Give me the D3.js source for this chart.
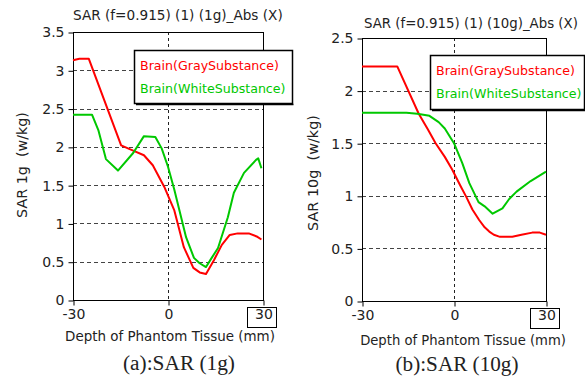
<!DOCTYPE html>
<html>
<head>
<meta charset="utf-8">
<script src="https://cdn.jsdelivr.net/npm/d3@7"></script>
<style>
  body { margin: 0; background: #fff; }
  svg { display: block; }
  text { font-family: "DejaVu Sans", sans-serif; }
</style>
</head>
<body>
<svg id="chart" width="585" height="378"></svg>
<script>
// depth (mm) / SAR values
const depth1gGray = [-30, -28, -25, -14.8, -11, -7.6, -4.8, -1.2, 2, 5, 8, 10, 12, 14.5, 17, 19.5, 22, 25.5, 28, 29.5]
const sar1gGray   = [3.13, 3.15, 3.15, 2.02, 1.95, 1.89, 1.76, 1.48, 1.17, 0.69, 0.42, 0.36, 0.34, 0.52, 0.72, 0.85, 0.87, 0.87, 0.83, 0.79]
const depth1gWhite = [-30, -24, -22, -19.6, -15.8, -11, -7.6, -4, -2, 0, 2, 5.7, 8.2, 10, 12, 13.8, 15.8, 18.9, 20.8, 24, 27.8, 28.5, 29.5]
const sar1gWhite   = [2.42, 2.42, 2.22, 1.84, 1.69, 1.92, 2.14, 2.13, 1.98, 1.74, 1.44, 0.82, 0.55, 0.48, 0.43, 0.55, 0.68, 1.08, 1.40, 1.66, 1.83, 1.85, 1.72]

const depth10gGray = [-30, -18.5, -11.5, -8.5, -6, -3, -0.6, 2, 4, 6, 8.2, 10, 11.5, 13, 15, 19, 22, 25.5, 28, 30]
const sar10gGray   = [2.23, 2.23, 1.78, 1.63, 1.50, 1.37, 1.25, 1.10, 0.99, 0.87, 0.77, 0.70, 0.66, 0.63, 0.61, 0.61, 0.63, 0.65, 0.65, 0.63]
const depth10gWhite = [-30, -15.5, -12, -8, -5, -3, 0, 2.7, 5, 8, 10, 12.6, 15.8, 18, 20.4, 25, 30]
const sar10gWhite   = [1.79, 1.79, 1.78, 1.76, 1.70, 1.64, 1.50, 1.31, 1.12, 0.94, 0.90, 0.83, 0.88, 0.97, 1.04, 1.14, 1.23]

const xTicks = [-30, 0, 30]
const yTicks1g = [0, 0.5, 1, 1.5, 2, 2.5, 3, 3.5]
const yTicks10g = [0, 0.5, 1, 1.5, 2, 2.5]
const legendNames = ["Brain(GraySubstance)", "Brain(WhiteSubstance)"]
const lineColors = ["#ff0000", "#00c800"]

const svg = d3.select("#chart")

const zip = (xs, ys) => xs.map((x, i) => ({x: x, y: ys[i]}))

// scale the font so a text takes the width it has in the picture
const fitWidth = (sel, target) => {
  const w = sel.node().getComputedTextLength()
  const fs = +sel.attr("font-size") * target / w
  sel.attr("font-size", fs)
  return fs
}

const drawPanel = (cfg) => {
  const x = d3.scaleLinear().domain([-30, 30]).range([cfg.left, cfg.right])
  const y = d3.scaleLinear().domain([0, cfg.yMax]).range([cfg.bottom, cfg.top])
  const g = svg.append("g")

  // horizontal dashed grid
  g.selectAll(".hgrid").data(cfg.yTicks.slice(1, -1)).join("line")
    .attr("x1", cfg.left).attr("x2", cfg.right)
    .attr("y1", d => Math.round(y(d)) + 0.5).attr("y2", d => Math.round(y(d)) + 0.5)
    .attr("stroke", "#444").attr("stroke-dasharray", "4,3")
  // vertical dashed at 0
  g.append("line")
    .attr("x1", Math.round(x(0)) + 0.5).attr("x2", Math.round(x(0)) + 0.5)
    .attr("y1", cfg.top).attr("y2", cfg.bottom)
    .attr("stroke", "#222").attr("stroke-dasharray", "3,3")

  // frame
  g.append("rect")
    .attr("x", cfg.left + 0.5).attr("y", cfg.top + 0.5)
    .attr("width", cfg.right - cfg.left).attr("height", cfg.bottom - cfg.top)
    .attr("fill", "none").attr("stroke", "#000")

  // axes
  const yAxis = d3.axisLeft(y).tickValues(cfg.yTicks).tickSize(5).tickPadding(4)
    .tickFormat(d => String(d))
  g.append("g").attr("transform", `translate(${cfg.left + 0.5},0.5)`).call(yAxis)
    .call(a => a.select(".domain").remove())
    .selectAll("text").attr("font-size", 14).attr("fill", "#222")
    .style("font-family", "'DejaVu Sans', sans-serif")
  const xAxis = d3.axisBottom(x).tickValues(xTicks).tickSize(5).tickPadding(4)
    .tickFormat(d => String(d))
  const xa = g.append("g").attr("transform", `translate(0.5,${cfg.bottom + 0.5})`).call(xAxis)
  xa.select(".domain").remove()
  xa.selectAll("text").attr("font-size", 14).attr("fill", "#222")
    .style("font-family", "'DejaVu Sans', sans-serif")
  // box around last tick label
  xa.append("rect")
    .attr("x", x(30) - 16).attr("y", 7)
    .attr("width", 29).attr("height", 20)
    .attr("fill", "none").attr("stroke", "#000")

  // lines
  const line = d3.line().x(d => x(d.x)).y(d => y(d.y))
  cfg.series.forEach((s, i) => {
    g.append("path").datum(s)
      .attr("d", line)
      .attr("fill", "none")
      .attr("stroke", lineColors[i])
      .attr("stroke-width", 2)
      .attr("stroke-linejoin", "round")
  })

  // title
  const title = g.append("text").attr("x", cfg.titleX).attr("y", cfg.titleY)
    .attr("font-size", 13.5).attr("fill", "#222").text(cfg.title)
  fitWidth(title, cfg.titleW)

  // y label
  const yl = g.append("text")
    .attr("transform", `translate(${cfg.yLabelX},${cfg.yLabelY}) rotate(-90)`)
    .attr("text-anchor", "middle").attr("font-size", 13.5).attr("fill", "#222")
    .attr("xml:space", "preserve")
    .text(cfg.yLabel)
  fitWidth(yl, cfg.yLabelW)

  // x label
  const xl = g.append("text").attr("x", cfg.xLabelX).attr("y", cfg.xLabelY)
    .attr("text-anchor", "middle").attr("font-size", 13.5).attr("fill", "#222")
    .text("Depth of Phantom Tissue (mm)")
  fitWidth(xl, cfg.xLabelW)

  // caption
  const cap = g.append("text").attr("x", cfg.capX).attr("y", cfg.capY)
    .attr("text-anchor", "middle").attr("font-size", 20)
    .style("font-family", "'Liberation Serif', 'Times New Roman', serif")
    .attr("fill", "#222").text(cfg.caption)
  fitWidth(cap, cfg.capW)

  // legend
  const lg = g.append("g").attr("transform", `translate(${cfg.legX},${cfg.legY})`)
  lg.append("rect").attr("x", 0.5).attr("y", 0.5)
    .attr("width", cfg.legW).attr("height", cfg.legH)
    .attr("fill", "#fff").attr("stroke", "#000").attr("stroke-width", 1.5)
  lg.append("line").attr("x1", 2).attr("x2", cfg.legW + 1.5)
    .attr("y1", cfg.legH + 1.5).attr("y2", cfg.legH + 1.5).attr("stroke", "#000").attr("stroke-width", 1.5)
  const items = lg.selectAll(".item").data(legendNames).join("text")
    .attr("x", 6).attr("y", (d, i) => 20 + i * 23)
    .attr("font-size", 13).attr("fill", (d, i) => lineColors[i]).text(d => d)
  const fs = fitWidth(d3.select(items.nodes()[0]), 139)
  items.attr("font-size", fs)
}

drawPanel({
  left: 73, right: 263, top: 32, bottom: 300, yMax: 3.5, yTicks: yTicks1g,
  series: [zip(depth1gGray, sar1gGray), zip(depth1gWhite, sar1gWhite)],
  title: "SAR (f=0.915) (1) (1g)_Abs (X)", titleX: 73, titleY: 20, titleW: 210,
  yLabel: "SAR 1g  (w/kg)", yLabelX: 27, yLabelY: 165, yLabelW: 106,
  xLabelX: 170, xLabelY: 341, xLabelW: 210,
  caption: "(a):SAR (1g)", capX: 179, capY: 370, capW: 112,
  legX: 134, legY: 50, legW: 158, legH: 53
})

drawPanel({
  left: 362, right: 546, top: 38, bottom: 301, yMax: 2.5, yTicks: yTicks10g,
  series: [zip(depth10gGray, sar10gGray), zip(depth10gWhite, sar10gWhite)],
  title: "SAR (f=0.915) (1) (10g)_Abs (X)", titleX: 364, titleY: 28, titleW: 214,
  yLabel: "SAR 10g  (w/kg)", yLabelX: 318, yLabelY: 173, yLabelW: 116,
  xLabelX: 463, xLabelY: 345, xLabelW: 206,
  caption: "(b):SAR (10g)", capX: 457, capY: 371, capW: 123,
  legX: 430, legY: 55, legW: 154, legH: 54
})
</script>
</body>
</html>
